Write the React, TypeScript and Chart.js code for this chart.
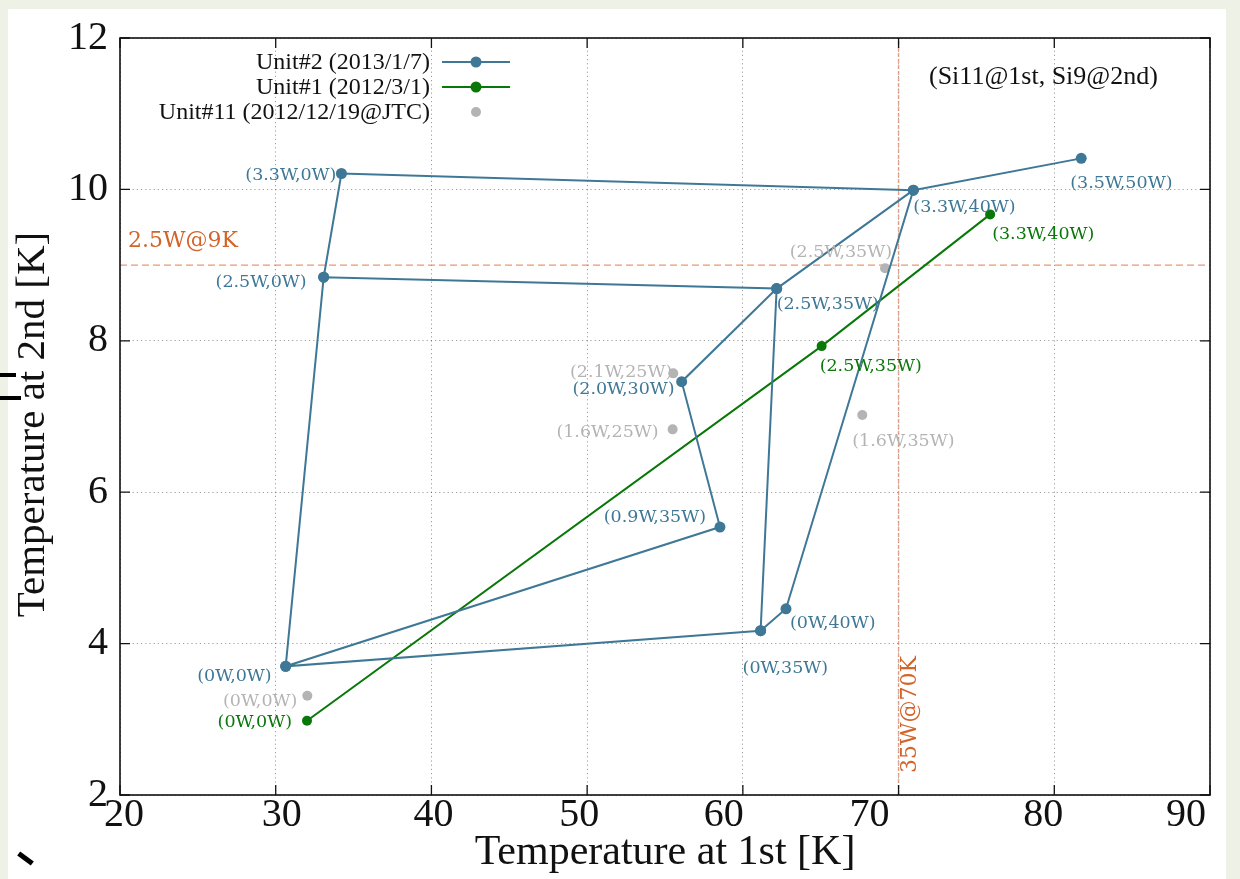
import React, { useEffect, useRef } from "react";
import { Chart, registerables } from "chart.js";

Chart.register(...registerables);

// ---------- data ----------
const X_TICKS = [20, 30, 40, 50, 60, 70, 80, 90];
const Y_TICKS = [2, 4, 6, 8, 10, 12];

// Unit#2 (2013/1/7) – unique measured points
const UNIT2_X = [30.64, 33.08, 34.22, 70.95, 81.73, 62.17, 56.07, 58.53, 61.14, 62.77];
const UNIT2_Y = [3.70, 8.84, 10.21, 9.99, 10.41, 8.69, 7.46, 5.54, 4.17, 4.46];
const UNIT2_LABELS = [
  "(0W,0W)", "(2.5W,0W)", "(3.3W,0W)", "(3.3W,40W)", "(3.5W,50W)",
  "(2.5W,35W)", "(2.0W,30W)", "(0.9W,35W)", "(0W,35W)", "(0W,40W)",
];
// order in which the Unit#2 points are joined by the line
const UNIT2_PATH = [4, 3, 2, 1, 0, 7, 6, 5, 3, 9, 8, 5, 1, 0, 8];

// Unit#1 (2012/3/1)
const UNIT1_X = [32.01, 65.06, 75.88];
const UNIT1_Y = [2.98, 7.93, 9.67];
const UNIT1_LABELS = ["(0W,0W)", "(2.5W,35W)", "(3.3W,40W)"];

// Unit#11 (2012/12/19@JTC)
const UNIT11_X = [32.03, 55.53, 55.49, 67.67, 69.13];
const UNIT11_Y = [3.31, 7.57, 6.83, 7.02, 8.96];
const UNIT11_LABELS = ["(0W,0W)", "(2.1W,25W)", "(1.6W,25W)", "(1.6W,35W)", "(2.5W,35W)"];

const LEGEND_LABELS = ["Unit#2 (2013/1/7)", "Unit#1 (2012/3/1)", "Unit#11 (2012/12/19@JTC)"];
const LIMIT_Y = 9;
const LIMIT_X = 70;
const LIMIT_Y_LABEL = "2.5W@9K";
const LIMIT_X_LABEL = "35W@70K";
const NOTE = "(Si11@1st, Si9@2nd)";
const X_TITLE = "Temperature at 1st [K]";
const Y_TITLE = "Temperature at 2nd [K]";

// ---------- layout / style (not data) ----------
const X_TICK_DX = [4, 6, 2, -8, -19, -29, -11, -24];
const UNIT2_LABEL_POS: [number, number, CanvasTextAlign][] = [
  [-14, 10, "right"], [-17, 5, "right"], [-5, 2, "right"], [0, 17, "left"], [-11, 25, "left"],
  [0, 16, "left"], [-7, 8, "right"], [-14, -10, "right"], [-18, 38, "left"], [4, 15, "left"],
];
const UNIT1_LABEL_POS: [number, number, CanvasTextAlign][] = [
  [-15, 2, "right"], [-2, 20, "left"], [2, 20, "left"],
];
const UNIT11_LABEL_POS: [number, number, CanvasTextAlign][] = [
  [-10, 6, "right"], [-1, -1, "right"], [-14, 3, "right"], [-10, 26, "left"], [7, -16, "right"],
];

const BLUE = "#3e7896";
const GREEN = "#087808";
const GRAY = "#b4b4b4";
const ORANGE = "#d2642a";
const SERIF = '"Liberation Serif", "Times New Roman", serif';
const LABEL_FONT = '17.5px "DejaVu Serif", serif';

const W = 1218;
const H = 870;

function pts(xs: number[], ys: number[]) {
  return xs.map((x, i) => ({ x, y: ys[i] }));
}

const decorPlugin = {
  id: "decor",
  afterDatasetsDraw(chart: any) {
    const { ctx, chartArea: a, scales } = chart;
    const xs = scales.x;
    const ys = scales.y;
    ctx.save();
    ctx.setLineDash([]);

    // frame
    ctx.strokeStyle = "#111";
    ctx.lineWidth = 1.6;
    ctx.strokeRect(a.left, a.top, a.right - a.left, a.bottom - a.top);

    // inward ticks
    ctx.lineWidth = 1.3;
    ctx.beginPath();
    X_TICKS.forEach((v) => {
      const px = xs.getPixelForValue(v);
      ctx.moveTo(px, a.bottom);
      ctx.lineTo(px, a.bottom - 10);
      ctx.moveTo(px, a.top);
      ctx.lineTo(px, a.top + 10);
    });
    Y_TICKS.forEach((v) => {
      const py = ys.getPixelForValue(v);
      ctx.moveTo(a.left, py);
      ctx.lineTo(a.left + 10, py);
      ctx.moveTo(a.right, py);
      ctx.lineTo(a.right - 10, py);
    });
    ctx.stroke();

    // x tick labels
    ctx.font = `40px ${SERIF}`;
    ctx.fillStyle = "#111";
    ctx.textAlign = "center";
    ctx.textBaseline = "middle";
    X_TICKS.forEach((v, i) => {
      ctx.fillText(String(v), xs.getPixelForValue(v) + X_TICK_DX[i], a.bottom + 20);
    });

    // point labels
    const drawLabels = (
      xv: number[], yv: number[], labels: string[],
      pos: [number, number, CanvasTextAlign][], color: string
    ) => {
      ctx.font = LABEL_FONT;
      ctx.fillStyle = color;
      ctx.textBaseline = "middle";
      labels.forEach((t, i) => {
        const px = xs.getPixelForValue(xv[i]);
        const py = ys.getPixelForValue(yv[i]);
        ctx.textAlign = pos[i][2];
        ctx.fillText(t, px + pos[i][0], py + pos[i][1]);
      });
    };
    drawLabels(UNIT11_X, UNIT11_Y, UNIT11_LABELS, UNIT11_LABEL_POS, GRAY);
    drawLabels(UNIT2_X, UNIT2_Y, UNIT2_LABELS, UNIT2_LABEL_POS, BLUE);
    drawLabels(UNIT1_X, UNIT1_Y, UNIT1_LABELS, UNIT1_LABEL_POS, GREEN);

    // limit labels
    ctx.font = '22px "DejaVu Serif", serif';
    ctx.fillStyle = ORANGE;
    ctx.textAlign = "left";
    ctx.textBaseline = "middle";
    ctx.fillText(LIMIT_Y_LABEL, a.left + 8, ys.getPixelForValue(LIMIT_Y) - 24);
    ctx.save();
    ctx.translate(xs.getPixelForValue(LIMIT_X) + 12, a.bottom - 22);
    ctx.rotate(-Math.PI / 2);
    ctx.fillText(LIMIT_X_LABEL, 0, 0);
    ctx.restore();

    // note
    ctx.font = `26px ${SERIF}`;
    ctx.fillStyle = "#111";
    ctx.textAlign = "left";
    ctx.fillText(NOTE, 921, 68);

    // legend
    const colors = [BLUE, GREEN, GRAY];
    LEGEND_LABELS.forEach((t, i) => {
      const y = 53 + i * 25;
      ctx.font = `24px ${SERIF}`;
      ctx.fillStyle = "#111";
      ctx.textAlign = "right";
      ctx.textBaseline = "middle";
      ctx.fillText(t, 422, y + 1);
      if (i < 2) {
        ctx.strokeStyle = colors[i];
        ctx.lineWidth = 2;
        ctx.beginPath();
        ctx.moveTo(434, y);
        ctx.lineTo(502, y);
        ctx.stroke();
      }
      ctx.fillStyle = colors[i];
      ctx.beginPath();
      ctx.arc(468, y, i < 2 ? 5.5 : 5, 0, Math.PI * 2);
      ctx.fill();
    });

    // axis titles
    ctx.fillStyle = "#111";
    ctx.font = `42px ${SERIF}`;
    ctx.textAlign = "center";
    ctx.textBaseline = "alphabetic";
    ctx.fillText(X_TITLE, (a.left + a.right) / 2, 855);
    ctx.save();
    ctx.translate(36, (a.top + a.bottom) / 2 + 8);
    ctx.rotate(-Math.PI / 2);
    ctx.font = `41px ${SERIF}`;
    ctx.fillText(Y_TITLE, 0, 0);
    ctx.restore();

    ctx.restore();
  },
};

export default function App() {
  const ref = useRef<HTMLCanvasElement | null>(null);

  useEffect(() => {
    document.body.style.background = "#eef1e6";
    const canvas = ref.current;
    if (!canvas) return;

    const unit2Path = UNIT2_PATH.map((i) => ({ x: UNIT2_X[i], y: UNIT2_Y[i] }));

    const chart = new Chart(canvas, {
      type: "line",
      data: {
        datasets: [
          {
            label: LEGEND_LABELS[0],
            data: unit2Path,
            borderColor: BLUE,
            backgroundColor: BLUE,
            borderWidth: 2,
            pointRadius: 5.5,
            pointBorderWidth: 0,
            pointBackgroundColor: BLUE,
            tension: 0,
            order: 1,
          },
          {
            label: LEGEND_LABELS[1],
            data: pts(UNIT1_X, UNIT1_Y),
            borderColor: GREEN,
            backgroundColor: GREEN,
            borderWidth: 2,
            pointRadius: 5,
            pointBorderWidth: 0,
            pointBackgroundColor: GREEN,
            order: 2,
          },
          {
            label: LEGEND_LABELS[2],
            data: pts(UNIT11_X, UNIT11_Y),
            showLine: false,
            borderColor: GRAY,
            backgroundColor: GRAY,
            pointRadius: 5,
            pointBorderWidth: 0,
            pointBackgroundColor: GRAY,
            order: 3,
          },
          {
            label: "limit-y",
            data: [{ x: 20, y: LIMIT_Y }, { x: 90, y: LIMIT_Y }],
            borderColor: "rgba(228,125,75,0.8)",
            borderWidth: 1.3,
            borderDash: [7, 4],
            pointRadius: 0,
            order: 10,
          },
          {
            label: "limit-x",
            data: [{ x: LIMIT_X, y: 2 }, { x: LIMIT_X, y: 12 }],
            borderColor: "rgba(222,140,110,0.75)",
            borderWidth: 1.5,
            borderDash: [4, 2],
            pointRadius: 0,
            order: 10,
          },
        ],
      },
      options: {
        animation: false,
        responsive: false,
        maintainAspectRatio: false,
        layout: { padding: { left: 0, right: 16, top: 29, bottom: 0 } },
        plugins: { legend: { display: false }, tooltip: { enabled: false } },
        scales: {
          x: {
            type: "linear",
            min: 20,
            max: 90,
            afterBuildTicks: (s: any) => {
              s.ticks = X_TICKS.map((v) => ({ value: v }));
            },
            afterFit: (s: any) => {
              s.height = 84;
              s.paddingLeft = 0;
              s.paddingRight = 0;
            },
            grid: { color: "rgba(0,0,0,0.38)", lineWidth: 1, drawTicks: false },
            border: { display: false, dash: [1.2, 3] },
            ticks: {
              display: false,
              font: { family: SERIF, size: 40 },
              color: "#111",
              maxRotation: 0,
              autoSkip: false,
            },
          },
          y: {
            type: "linear",
            min: 2,
            max: 12,
            afterBuildTicks: (s: any) => {
              s.ticks = Y_TICKS.map((v) => ({ value: v }));
            },
            afterFit: (s: any) => {
              s.width = 112;
              s.paddingTop = 0;
              s.paddingBottom = 0;
            },
            grid: { color: "rgba(0,0,0,0.38)", lineWidth: 1, drawTicks: false },
            border: { display: false, dash: [1.2, 3] },
            ticks: {
              font: { family: SERIF, size: 40 },
              color: "#111",
              padding: 12,
              autoSkip: false,
            },
          },
        },
      },
      plugins: [decorPlugin],
    } as any);

    return () => chart.destroy();
  }, []);

  const bar = (left: number, top: number, w: number, h: number, rot = 0) => ({
    position: "absolute" as const,
    left,
    top,
    width: w,
    height: h,
    background: "#000",
    transform: rot ? `rotate(${rot}deg)` : undefined,
  });

  return (
    <div style={{ paddingTop: 1 }}>
      <canvas ref={ref} width={W} height={H} style={{ display: "block", background: "#fff", width: W, height: H }} />
      <div style={bar(0, 373, 16, 4)} />
      <div style={bar(0, 396, 21, 4)} />
      <div style={bar(17, 856, 17, 5, 37)} />
    </div>
  );
}
